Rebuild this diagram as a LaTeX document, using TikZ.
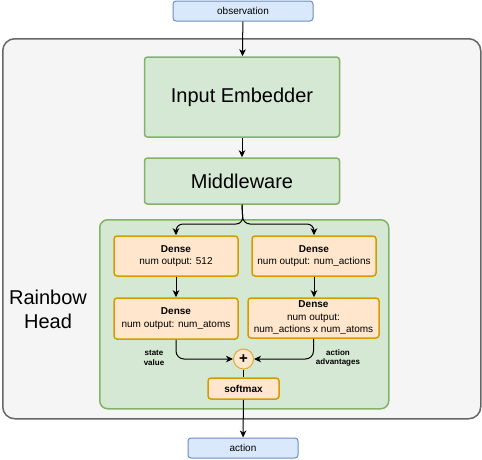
\documentclass[tikz,border=0pt]{standalone}
\usepackage{fontspec}
\setmainfont{Liberation Sans}
\usetikzlibrary{arrows.meta}
\definecolor{grayfill}{HTML}{F5F5F5}
\definecolor{graydraw}{HTML}{666666}
\definecolor{greenfill}{HTML}{D5E8D4}
\definecolor{greendraw}{HTML}{82B366}
\definecolor{orangefill}{HTML}{FFE6CC}
\definecolor{orangedraw}{HTML}{D79B00}
\definecolor{yellowdraw}{HTML}{E0A830}
\definecolor{bluefill}{HTML}{DAE8FC}
\definecolor{bluedraw}{HTML}{6C8EBF}
\tikzset{
  box/.style={draw, rounded corners=3pt, inner sep=0pt, align=center},
  greenbox/.style={box, fill=greenfill, draw=greendraw, line width=1.5pt},
  densebox/.style={box, fill=orangefill, draw=orangedraw, line width=1.5pt, font=\fontsize{10}{12.5}\selectfont},
  bluebox/.style={box, fill=bluefill, draw=bluedraw, line width=1pt, font=\fontsize{10}{12}\selectfont},
  arr/.style={-{Stealth[length=7pt,width=6.5pt,inset=2pt]}, line width=1pt},
  lbl/.style={font=\bfseries\fontsize{8}{9.5}\selectfont, align=center}
}
\begin{document}
\begin{tikzpicture}[x=1pt,y=-1pt]
\useasboundingbox (0,0) rectangle (482,459);
% outer container
\node[box, fill=grayfill, draw=graydraw, line width=1.5pt, rounded corners=12pt, minimum width=478, minimum height=380, anchor=north west] (outer) at (2,38) {};
\node[font=\fontsize{20}{24}\selectfont, align=center] (rh) at (48,309) {Rainbow\\Head};
% head container
\node[greenbox, rounded corners=8pt, minimum width=289, minimum height=189, anchor=north west] (head) at (99,219) {};
% top boxes
\node[bluebox, minimum width=140, minimum height=20] (obs) at (243,11) {observation};
\node[greenbox, minimum width=195, minimum height=80, font=\fontsize{20}{24}\selectfont] (emb) at (242,97) {Input Embedder};
\node[greenbox, minimum width=195, minimum height=46, font=\fontsize{20}{24}\selectfont] (mw) at (242,181) {Middleware};
% dense boxes
\node[densebox, minimum width=124, minimum height=40] (d1) at (176,256) {\textbf{Dense}\\num output: 512};
\node[densebox, minimum width=124, minimum height=40] (d2) at (314,256) {\textbf{Dense}\\num output: num\_actions};
\node[densebox, minimum width=124, minimum height=41] (d3) at (176,318.5) {\textbf{Dense}\\num output: num\_atoms};
\node[densebox, minimum width=131, minimum height=40] (d4) at (313.5,318) {\textbf{Dense}\\num output:\\num\_actions x num\_atoms};
% plus and softmax
\node[circle, draw=yellowdraw, fill=orangefill, line width=1pt, minimum size=20, inner sep=0pt, font=\bfseries\fontsize{15}{15}\selectfont] (plus) at (243.5,359) {+};
\node[densebox, minimum width=71, minimum height=21, font=\bfseries\fontsize{10}{12}\selectfont] (sm) at (243.5,388.5) {softmax};
\node[bluebox, minimum width=110, minimum height=20] (act) at (243,448) {action};
% labels
\node[lbl] (sv) at (154,358) {state\\value};
\node[lbl] (aa) at (338,358) {action\\advantages};
% connectors
\draw[arr] (obs) -- (emb);
\draw[arr] (emb) -- (mw);
\draw[arr, rounded corners=7pt] (mw.south) -- (243,224) -| (d1.north);
\draw[arr, rounded corners=7pt] (mw.south) -- (243,224) -| (d2.north);
\draw[arr] (d1) -- (d3);
\draw[arr] (d2.south) -- (d4.north -| d2.south);
\draw[arr, rounded corners=8pt] (d3.south) |- (plus.west);
\draw[arr, rounded corners=8pt] (d4.south) |- (plus.east);
\draw[line width=1pt] (plus) -- (sm);
\draw[arr] (sm) -- (act);
\end{tikzpicture}
\end{document}
